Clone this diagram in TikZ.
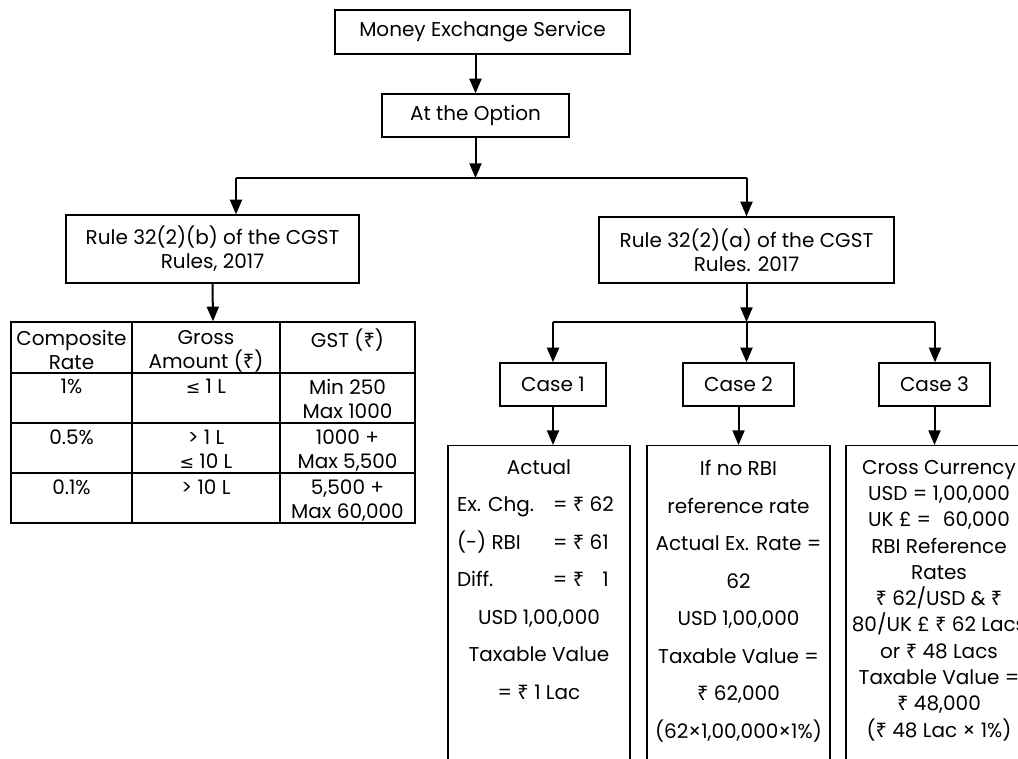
\documentclass[tikz,border=0pt]{standalone}
\usepackage{fontspec}
\usepackage{calc}
\setmainfont{Poppins}
\newfontfamily\symfont{Noto Sans}
\newfontfamily\relfont{DejaVu Sans}
\usetikzlibrary{arrows.meta,positioning,calc}
\newcommand{\Rs}{{\symfont ₹}}
\newcommand{\lte}{{\relfont\fontsize{13}{14}\selectfont ≤}}

\begin{document}
\begin{tikzpicture}[x=0.75pt,y=-0.75pt,
    bx/.style={draw,line width=1pt,inner sep=0pt,align=center,font=\fontsize{15}{18}\selectfont},
    tx/.style={inner sep=0pt,align=center,anchor=north},
    cell/.style={tx,font=\fontsize{15}{18}\selectfont},
    ar/.style={-{Triangle[length=11pt,width=9pt]},line width=1.5pt},
    ln/.style={line width=1.5pt}
]
\useasboundingbox (0,0) rectangle (1018,758);
\clip (0,0) rectangle (1018,758);

\node[bx,minimum width=221.25pt,minimum height=33pt] (money) at (482.5,32) {Money Exchange Service};
\node[bx,minimum width=140.25pt,minimum height=32.25pt] (option) at (475.5,115.5) {At the Option};
\draw[ar] (option.north |- money.south) -- (option.north);

\node[bx,minimum width=219.75pt,minimum height=51pt] (ruleb) at (212.5,249) {Rule 32(2)(b) of the CGST\\Rules, 2017};
\node[bx,minimum width=221.25pt,minimum height=49.5pt] (rulea) at (746.5,250) {Rule 32(2)(a) of the CGST\\Rules. 2017};
\coordinate (fork) at (475.5,178);
\coordinate (forkl) at (236,178);
\coordinate (forkr) at (rulea.north |- fork);
\draw[ar] (option.south) -- (fork);
\draw[ln] (forkl) -- (forkr);
\draw[ar] (forkl) -- (forkl |- ruleb.north);
\draw[ar] (forkr) -- (rulea.north);

% GST table under rule 32(2)(b)
\node[draw,line width=1pt,inner sep=0pt,minimum width=303pt,minimum height=150.75pt] (tbl) at (213,422.5) {};
\draw[ar] (ruleb.south) -- (tbl.north);
\draw[line width=1pt] (132,322) -- (132,523) (280,322) -- (280,523)
    (11,373) -- (415,373) (11,423) -- (415,423) (11,473) -- (415,473);
\node[cell] (h1) at (71.5,330) {Composite\\Rate};
\node[cell] (h2) at (206,330) {Gross\\Amount (\Rs)};
\node[cell] (h3) at (347.5,329) {GST (\Rs)};
\node[cell] (r11) at (71.5,379) {1\%};
\node[cell] (r12) at (206,379) {\lte~1 L};
\node[cell] (r13) at (347.5,379) {Min 250\\Max 1000};
\node[cell] (r21) at (71.5,430) {0.5\%};
\node[cell] (r22) at (206,430) {> 1 L\\\lte~10 L};
\node[cell] (r23) at (347.5,430) {1000 +\\Max 5,500};
\node[cell] (r31) at (71.5,480) {0.1\%};
\node[cell] (r32) at (206,480) {> 10 L};
\node[cell] (r33) at (347.5,480) {5,500 +\\Max 60,000};

% three cases under rule 32(2)(a)
\coordinate (split) at (rulea.south |- 0,322);
\coordinate (s1) at (553,322);
\coordinate (s3) at (935,322);
\draw[ar] (rulea.south) -- (split);
\draw[ln] (s1) -- (s3);
\node[bx,minimum width=79.5pt,minimum height=32.25pt] (case1) at (553,384.5) {Case 1};
\node[bx,minimum width=83.25pt,minimum height=32.25pt] (case2) at (738.5,384.5) {Case 2};
\node[bx,minimum width=83.25pt,minimum height=32.25pt] (case3) at (934.5,384.5) {Case 3};
\draw[ar] (s1) -- (case1.north);
\draw[ar] (split) -- (split |- case2.north);
\draw[ar] (s3) -- (s3 |- case3.north);

\node[bx,anchor=north,minimum width=136.5pt,minimum height=258.75pt] (calc1) at (539,445) {};
\node[bx,anchor=north,minimum width=137.25pt,minimum height=258.75pt] (calc2) at (738.5,445) {};
\node[bx,anchor=north,minimum width=139.5pt,minimum height=258.75pt] (calc3) at (939,445) {};
\draw[ar] (case1.south) -- (case1.south |- calc1.north);
\draw[ar] (case2.south) -- (calc2.north);
\draw[ar] (case3.south) -- (case3.south |- calc3.north);

\node[tx,font=\fontsize{15}{28.125}\selectfont] (txt1) at ($(calc1.north)+(0,14)$) {Actual\\
    \makebox[123pt][l]{\makebox[72pt][l]{Ex. Chg.}= \Rs~62}\\
    \makebox[123pt][l]{\makebox[72pt][l]{(-) RBI}= \Rs~61}\\
    \makebox[123pt][l]{\makebox[72pt][l]{Diff.}= \Rs~\phantom{6}1}\\
    USD 1,00,000\\Taxable Value\\= \Rs~1 Lac};
\node[tx,font=\fontsize{15}{28.125}\selectfont] (txt2) at ($(calc2.north)+(0,15)$) {If no RBI\\reference rate\\Actual Ex. Rate =\\62\\USD 1,00,000\\Taxable Value =\\\Rs~62,000\\(62×1,00,000×1\%)};
\node[tx,font=\fontsize{15}{19.7}\selectfont] (txt3) at ($(calc3.north)+(0,15)$) {Cross Currency\\USD = 1,00,000\\
    \makebox[\widthof{USD = 1,00,000}][l]{UK £ =\hfill 60,000}\\RBI Reference\\Rates\\\Rs~62/USD \& \Rs\\80/UK £ \Rs~62 Lacs\\or \Rs~48 Lacs\\Taxable Value =\\\Rs~48,000\\(\Rs~48 Lac × 1\%)};
\end{tikzpicture}
\end{document}
